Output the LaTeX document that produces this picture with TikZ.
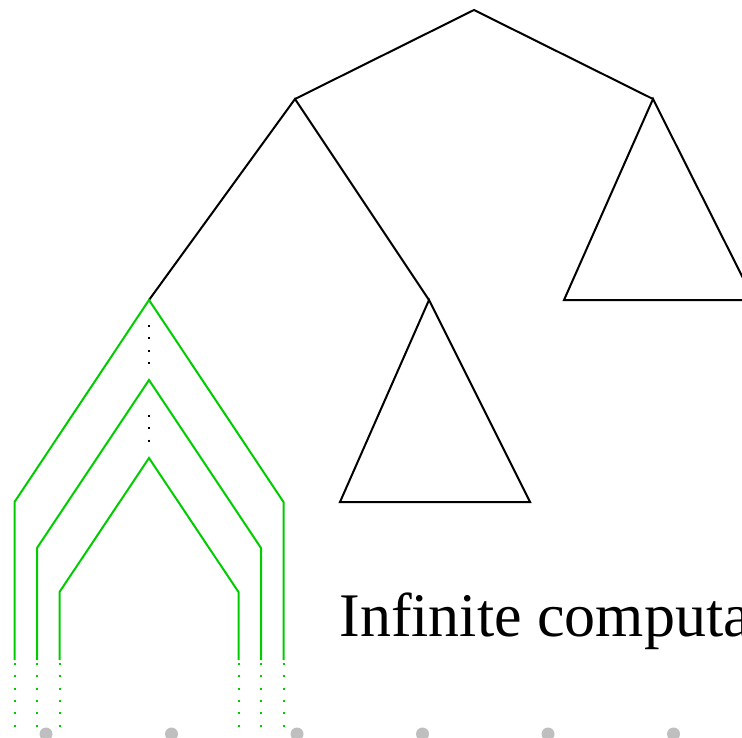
\documentclass[tikz,border=0pt]{standalone}
\usepackage{fontspec}
\setmainfont{Liberation Serif}
\usepackage{xcolor}
\usetikzlibrary{calc}
\definecolor{runcolor}{HTML}{00CC00}
\definecolor{haltgray}{HTML}{BFBFBF}

\begin{document}
\begin{tikzpicture}[x=0.5pt,y=-0.5pt,
    edge/.style={line width=1pt,black},
    run/.style={line width=1pt,runcolor},
    dotrun/.style={line width=1pt,runcolor,dash pattern=on 1pt off 5.15pt},
    dotgap/.style={line width=1pt,black,dash pattern=on 1pt off 5.15pt},
    halt/.style={circle,fill=haltgray,inner sep=0pt,minimum size=6.5pt}]
    \useasboundingbox (0,0) rectangle (742,737);
    \clip (0,0) rectangle (742,737);
    % tree
    \coordinate (root) at (474,10);
    \coordinate (left) at (295,99);
    \coordinate (right) at (653,99);
    \coordinate (leftleft) at (149,300);
    \coordinate (leftright) at (429,300);
    \draw[edge] (left) -- (root) -- (right);
    \draw[edge] (leftleft) -- (left) -- (leftright);
    \draw[edge] (leftright) -- ++(-89,202) -- ++(190,0) -- cycle;
    \draw[edge] (right) -- ++(-89,201) -- ++(190,0) -- cycle;
    % nested runs
    \foreach \apex/\w/\h [count=\i] in {300/134.5/202,380/112/168,458/89.5/134} {
      \coordinate (apex\i) at (149,\apex);
      \draw[run] (149-\w,660) -- (149-\w,\apex+\h) -- (apex\i)
        -- (149+\w,\apex+\h) -- (149+\w,660);
      \draw[dotrun] (149-\w,663) -- (149-\w,728);
      \draw[dotrun] (149+\w,663) -- (149+\w,728);
    }
    \draw[dotgap] (149,325) -- (149,366);
    \draw[dotgap] (149,415) -- (149,443);
    % halting points
    \foreach \x in {0,...,5}
      \node[halt] (halt\x) at (46+125.5*\x,734) {};
    \node[anchor=base west,inner sep=0pt,font=\fontsize{31}{36}\selectfont]
      (label) at (339,636) {Infinite computa};
\end{tikzpicture}
\end{document}
